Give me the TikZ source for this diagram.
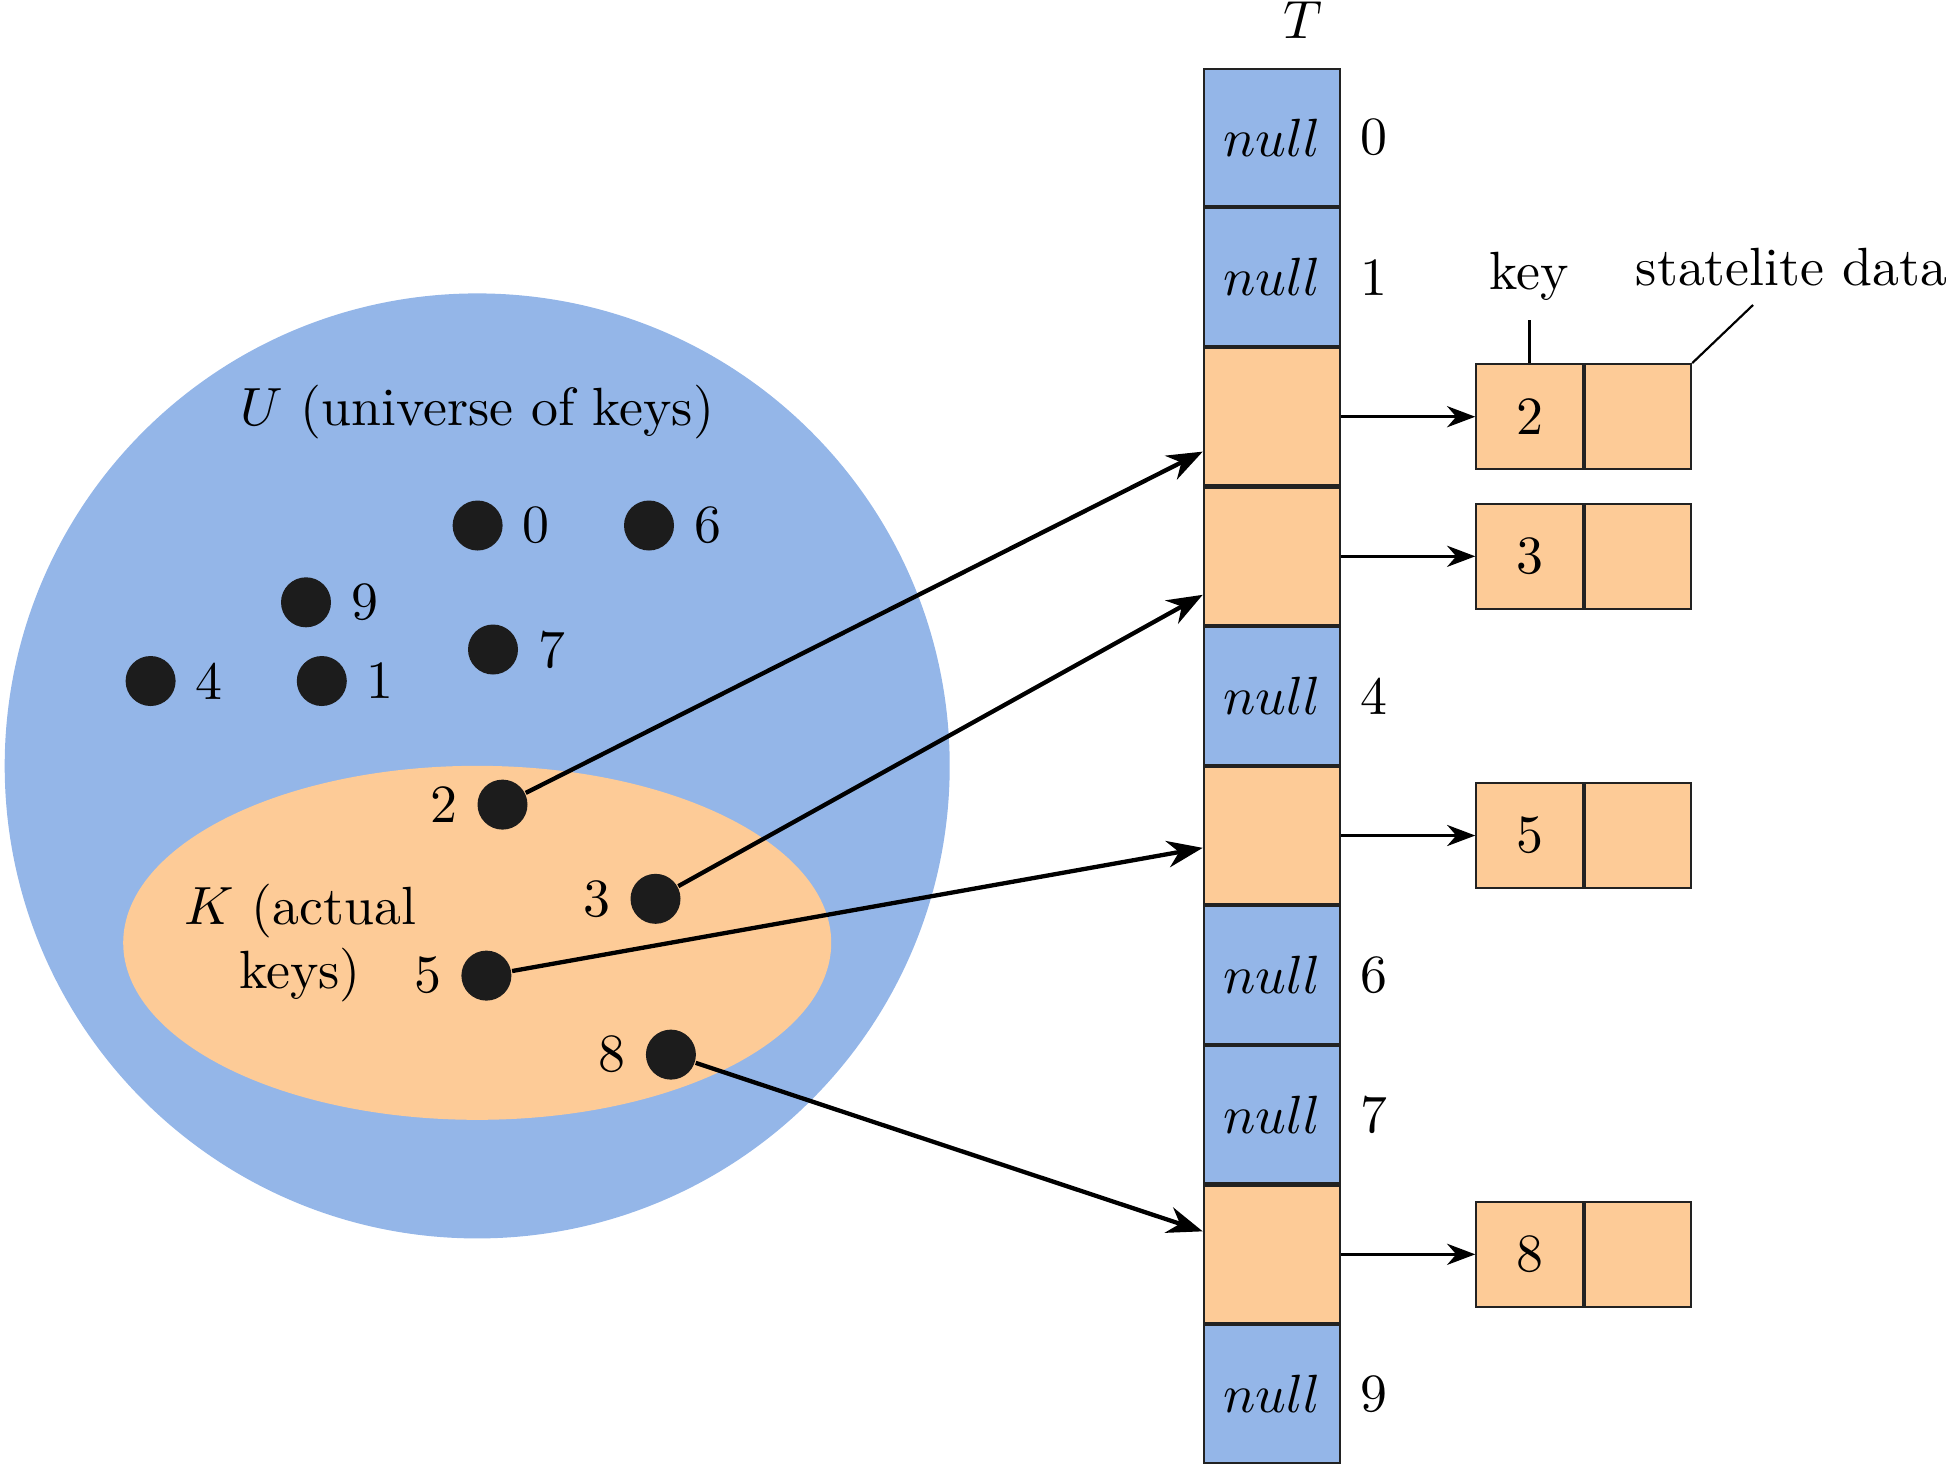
\documentclass[tikz,border=0pt]{standalone}
\usetikzlibrary{arrows.meta}
\definecolor{ublue}{RGB}{148,182,232}
\definecolor{korange}{RGB}{253,203,151}
\definecolor{dotc}{RGB}{28,28,28}
\definecolor{edgec}{RGB}{34,34,34}
\tikzset{
  cell/.style={draw=edgec, line width=0.4pt, minimum width=25.35pt, minimum height=25.54pt, inner sep=0pt},
  nullcell/.style={cell, fill=ublue},
  fullcell/.style={cell, fill=korange},
  halfbox/.style={draw=edgec, line width=0.4pt, fill=korange, minimum width=19.76pt, minimum height=19.54pt, inner sep=0pt},
  keydot/.style={circle, fill=dotc, minimum size=9.29pt, inner sep=0pt},
  hasharrow/.style={-{Stealth}, line width=0.8pt},
  ptrarrow/.style={-{Stealth}, line width=0.5pt},
  callout/.style={line width=0.4pt}
}
\begin{document}
\begin{tikzpicture}[x=0.1858pt, y=-0.1858pt]
\useasboundingbox (0,0) rectangle (1951,1467);
% universe and key set
\fill[ublue] (477.2,765.9) circle [radius=472.5];
\fill[korange] (477.2,942.8) ellipse [x radius=354, y radius=177];
\node (Ulabel) at (477,412) {$U$ (universe of keys)};
\node[align=center] (Klabel) at (300,943) {$K$ (actual\\keys)};
% keys
\node[keydot, label=right:0] (d0) at (477.6,525.5) {};
\node[keydot, label=right:6] (d6) at (649,525.5) {};
\node[keydot, label=right:9] (d9) at (306,602.3) {};
\node[keydot, label=right:4] (d4) at (150.6,681) {};
\node[keydot, label=right:1] (d1) at (321.8,681) {};
\node[keydot, label=right:7] (d7) at (493,649.5) {};
\node[keydot, label=left:2] (d2) at (502.5,804.6) {};
\node[keydot, label=left:3] (d3) at (655.5,898.8) {};
\node[keydot, label=left:5] (d5) at (486.4,975.6) {};
\node[keydot, label=left:8] (d8) at (670.9,1054.6) {};
% table T
\node (Tlabel) at (1303,20) {$T$};
\node[nullcell, label=right:0] (r0) at (1272,137.5) {$null$};
\node[nullcell, label=right:1] (r1) at (1272,277.1) {$null$};
\node[fullcell] (r2) at (1272,416.7) {};
\node[fullcell] (r3) at (1272,556.3) {};
\node[nullcell, label=right:4] (r4) at (1272,695.9) {$null$};
\node[fullcell] (r5) at (1272,835.5) {};
\node[nullcell, label=right:6] (r6) at (1272,975.1) {$null$};
\node[nullcell, label=right:7] (r7) at (1272,1114.7) {$null$};
\node[fullcell] (r8) at (1272,1254.3) {};
\node[nullcell, label=right:9] (r9) at (1272,1393.9) {$null$};
% elements
\node[halfbox] (k2) at (1529.5,416.7) {2};
\node[halfbox] (s2) at (1638,416.7) {};
\node[halfbox] (k3) at (1529.5,556.3) {3};
\node[halfbox] (s3) at (1638,556.3) {};
\node[halfbox] (k5) at (1529.5,835.5) {5};
\node[halfbox] (s5) at (1638,835.5) {};
\node[halfbox] (k8) at (1529.5,1254.3) {8};
\node[halfbox] (s8) at (1638,1254.3) {};
% annotations
\coordinate (keyend) at (1529.5,320);
\coordinate (dataend) at (1753,305);
\node[anchor=south] (keytext) at (keyend) {key};
\node[anchor=south] (datatext) at (1791.5,305) {statelite data};
\draw[callout] (k2.north) -- (keyend);
\draw[callout] (s2.north east) -- (dataend);
% hash arrows
\draw[hasharrow] (d2) -- (r2);
\draw[hasharrow] (d3) -- (r3);
\draw[hasharrow] (d5) -- (r5);
\draw[hasharrow] (d8) -- (r8);
% pointers
\draw[ptrarrow] (r2) -- (k2);
\draw[ptrarrow] (r3) -- (k3);
\draw[ptrarrow] (r5) -- (k5);
\draw[ptrarrow] (r8) -- (k8);
\end{tikzpicture}
\end{document}
